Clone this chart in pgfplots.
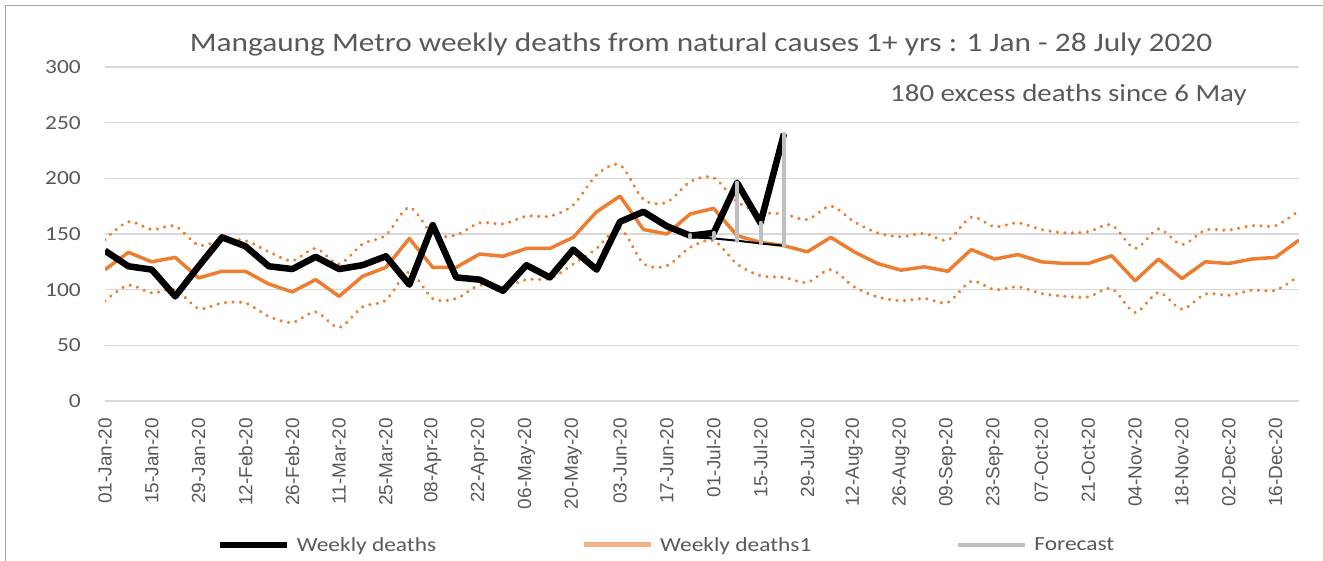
\documentclass[border=0pt]{standalone}
\usepackage{pgfplots}
\pgfplotsset{compat=1.18}
\usepackage{pgfplotstable}
\usepackage{fontspec}
\setmainfont{Carlito}[FakeStretch=1.17]
\newfontfamily\tickfont{Liberation Sans}
\definecolor{exorange}{HTML}{ED7D31}
\definecolor{legsalmon}{HTML}{F4B183}
\definecolor{bargray}{HTML}{BFBFBF}
\definecolor{gridgray}{HTML}{D9D9D9}
\definecolor{txtgray}{HTML}{595959}
\definecolor{framegray}{HTML}{A6A6A6}

% week index, baseline (Weekly deaths1), upper and lower bounds
\pgfplotstableread{
x base upper lower
0 118 145 90
1 133.5 161 104
2 125 154 97
3 129 157 100
4 110.5 140 83
5 116.5 144.5 88
6 116.5 144 88
7 105 134 76
8 98 126 70.5
9 109 137 80
10 94 123 66
11 112 141 84.5
12 120 149 90.5
13 146 174 116
14 120 150 92
15 120 149 92
16 132 160 104
17 130 159 102
18 137 166 109
19 137 166 110
20 147 176 123
21 170 203 137
22 184 212 155
23 154 181 123.5
24 150 178.5 121.5
25 168 197 138
26 173 200.5 144
27 148.5 179 123
28 142.5 169.5 112.5
29 139.5 168 111
30 134 163 106.5
31 147 175 118
32 134 161 102.5
33 123.5 151 93.5
34 117.5 147.5 90
35 120.5 150.5 92
36 116.5 144.5 88.5
37 136 165 107.5
38 127.5 156.5 100
39 131.5 160 102.5
40 125 154 96.5
41 123.5 151 94
42 123.5 152 93.5
43 130.5 158 101
44 108 137 79.5
45 127.5 154.5 97.5
46 110 140.5 82.5
47 125 153.5 96
48 123.5 153.5 95
49 127.5 157.5 99.5
50 129 157.5 99.5
51 144.5 171 112.5
}\basetab

% Weekly deaths
\pgfplotstableread{
x d
0 135
1 121
2 118
3 94
4 121
5 147
6 139
7 121
8 118.5
9 129.5
10 118.5
11 122
12 130
13 104.5
14 158
15 111
16 109
17 99
18 122
19 111
20 136
21 118
22 161
23 170
24 157
25 148.5
26 151
27 196
28 160
29 240
}\deathtab

% Forecast and excess above it
\pgfplotstableread{
x f e
25 147 2
26 146 5
27 144 52
28 141.5 18.5
29 139.5 100.5
}\fctab

\begin{document}
\begin{tikzpicture}[x=1bp,y=1bp]
\useasboundingbox (0,0) rectangle (1323,561);
\draw[framegray, line width=1.3bp] (5.5,-5) -- (5.5,555.5) -- (1330,555.5);
\begin{axis}[
  at={(105bp,160bp)}, anchor=south west,
  scale only axis, width=1194bp, height=334bp,
  xmin=0, xmax=51, ymin=0, ymax=300,
  xtick={0,2,...,50},
  xticklabels={01-Jan-20,15-Jan-20,29-Jan-20,12-Feb-20,26-Feb-20,11-Mar-20,25-Mar-20,08-Apr-20,22-Apr-20,06-May-20,20-May-20,03-Jun-20,17-Jun-20,01-Jul-20,15-Jul-20,29-Jul-20,12-Aug-20,26-Aug-20,09-Sep-20,23-Sep-20,07-Oct-20,21-Oct-20,04-Nov-20,18-Nov-20,02-Dec-20,16-Dec-20},
  ytick={0,50,...,300},
  ymajorgrids,
  grid style={draw=gridgray, line width=1.3bp},
  axis line style={draw=none},
  tick style={draw=none},
  major tick length=0pt,
  /pgf/number format/assume math mode=true,
  yticklabel style={font=\fontsize{20bp}{24bp}\selectfont, text=txtgray, anchor=east, inner sep=0pt},
  yticklabel shift=24bp,
  xticklabel style={font=\tickfont\fontsize{19bp}{22bp}\selectfont, text=txtgray, rotate=90, anchor=east, inner sep=0pt},
  xticklabel shift=17bp,
  legend columns=3,
  legend style={draw=none, fill=none, at={(axis description cs:0.0935,-0.431)}, anchor=west,
    inner sep=0pt, font=\fontsize{20bp}{24bp}\selectfont, text=txtgray,
    nodes={inner sep=0pt},
    /tikz/every odd column/.append style={column sep=7bp},
    /tikz/every even column/.append style={column sep=145bp}},
  legend image code/.code={\draw[#1] (0bp,0bp) -- (67bp,0bp);},
]
% bounds (smoothed, dotted)
\addplot[forget plot, exorange, line width=3.5bp, line cap=round, dash pattern=on 0.01bp off 7.5bp, smooth, tension=0.5] table[x=x, y=upper] {\basetab};
\addplot[forget plot, exorange, line width=3.5bp, line cap=round, dash pattern=on 0.01bp off 7.5bp, smooth, tension=0.5] table[x=x, y=lower] {\basetab};
% baseline
\addplot[forget plot, exorange, line width=3.5bp, line join=round] table[x=x, y=base] {\basetab};
% weekly deaths
\addplot[forget plot, black, line width=6.5bp, line join=round] table[x=x, y=d] {\deathtab};
% forecast with excess bars
\addplot[forget plot, black, line width=2bp, mark=none,
  error bars/.cd, y dir=plus, y explicit,
  error bar style={draw=bargray, line width=4bp, line cap=round}, error mark=none]
  table[x=x, y=f, y error=e] {\fctab};
\addlegendimage{black, line width=6bp}
\addlegendentry{Weekly deaths}
\addlegendimage{legsalmon, line width=5bp}
\addlegendentry{Weekly deaths1}
\addlegendimage{bargray, line width=4bp}
\addlegendentry{Forecast}
\end{axis}
\node[anchor=base, font=\fontsize{26.8bp}{32bp}\selectfont, text=txtgray] at (701,509.3) {Mangaung Metro weekly deaths from natural causes 1+ yrs : 1 Jan - 28 July 2020};
\node[anchor=base west, inner sep=0pt, font=\fontsize{24.7bp}{30bp}\selectfont, text=txtgray] at (890,459.3) {180 excess deaths since 6 May};
\end{tikzpicture}
\end{document}
